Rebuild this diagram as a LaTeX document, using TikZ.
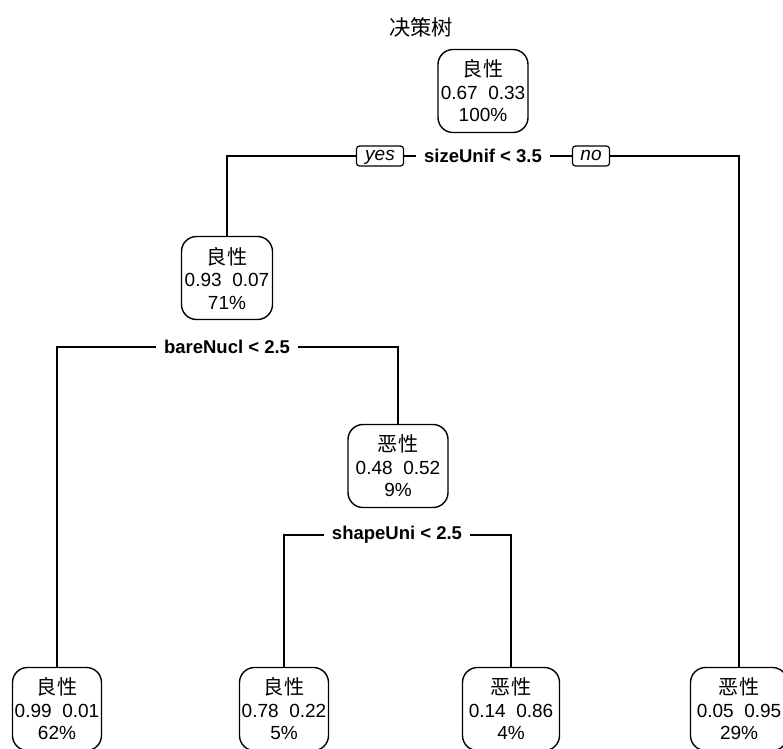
\documentclass[tikz,border=0pt]{standalone}
\usepackage{fontspec}
\setmainfont{Liberation Sans}
\newfontfamily\cjk{Noto Sans CJK SC}[Scale=1.06]
\begin{document}
\begin{tikzpicture}[x=1pt,y=-1pt,
  leaf/.style={draw, line width=1.4pt, rounded corners=15pt, minimum height=83pt, align=center,
    font=\fontsize{19}{22.5}\selectfont, inner sep=0pt},
  cond/.style={fill=white, font=\bfseries\fontsize{18.5}{21}\selectfont, inner xsep=8pt, inner ysep=2pt},
  yn/.style={draw, fill=white, line width=1.2pt, rounded corners=3pt, font=\itshape\fontsize{19}{21}\selectfont,
    minimum height=20pt, text height=10pt, text depth=2pt, inner xsep=4pt, inner ysep=0pt},
  edge/.style={line width=1.7pt}]
\useasboundingbox (0,0) rectangle (783,748);
\node (title) at (421,27) {\cjk\fontsize{20}{22}\selectfont 决策树};
% nodes
\node[leaf, minimum width=90pt] (n1) at (483,91) {{\cjk 良性}\\0.67\ \ 0.33\\100\%};
\node[leaf, minimum width=91pt] (n2) at (227,278) {{\cjk 良性}\\0.93\ \ 0.07\\71\%};
\node[leaf, minimum width=100pt] (n3) at (398,466) {{\cjk 恶性}\\0.48\ \ 0.52\\9\%};
\node[leaf, minimum width=89pt] (n4) at (57,709) {{\cjk 良性}\\0.99\ \ 0.01\\62\%};
\node[leaf, minimum width=89pt] (n5) at (284,709) {{\cjk 良性}\\0.78\ \ 0.22\\5\%};
\node[leaf, minimum width=97pt] (n6) at (511,709) {{\cjk 恶性}\\0.14\ \ 0.86\\4\%};
\node[leaf, minimum width=97pt] (n7) at (739,709) {{\cjk 恶性}\\0.05\ \ 0.95\\29\%};
% split labels
\node[cond] (s1) at (483,156) {sizeUnif < 3.5};
\node[yn, minimum width=47pt] (yes) at (380,156) {yes};
\node[yn, minimum width=37pt] (no) at (591,156) {no};
\node[cond] (s2) at (227,347) {bareNucl < 2.5};
\node[cond] (s3) at (397,535) {shapeUni < 2.5};
% connectors
\draw[edge] (n2.north) |- (yes.west);
\draw[edge] (yes.east) -- (s1.west);
\draw[edge] (s1.east) -- (no.west);
\draw[edge] (no.east) -| (n7.north);
\draw[edge] (n4.north) |- (s2.west);
\draw[edge] (s2.east) -| (n3.north);
\draw[edge] (n5.north) |- (s3.west);
\draw[edge] (s3.east) -| (n6.north);
\end{tikzpicture}
\end{document}
